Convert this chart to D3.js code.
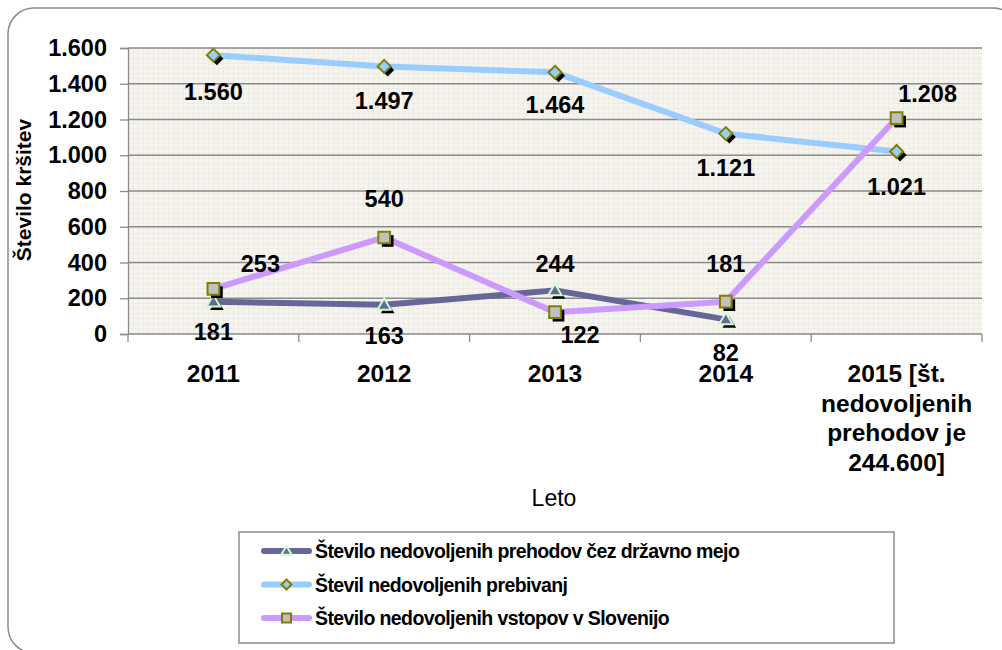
<!DOCTYPE html>
<html>
<head>
<meta charset="utf-8">
<script src="https://cdn.jsdelivr.net/npm/d3@7"></script>
<style>
  html, body { margin: 0; padding: 0; background: #fff; }
  svg { display: block; font-family: "Liberation Sans", Arial, sans-serif; }
</style>
</head>
<body>
<svg id="chart" width="1002" height="650"></svg>
<script>
// ---- Data ----
const categories = ["2011", "2012", "2013", "2014", "2015"];
const categoryLabels = [
  ["2011"], ["2012"], ["2013"], ["2014"],
  ["2015 [št.", "nedovoljenih", "prehodov je", "244.600]"]
];
const seriesNames = [
  "Število nedovoljenih prehodov čez državno mejo",
  "Števil nedovoljenih prebivanj",
  "Število nedovoljenih vstopov v Slovenijo"
];
const prehodi = [181, 163, 244, 82, null];
const prebivanja = [1560, 1497, 1464, 1121, 1021];
const vstopi = [253, 540, 122, 181, 1208];
const yTicks = [0, 200, 400, 600, 800, 1000, 1200, 1400, 1600];
const yTitle = "Število kršitev";
const xTitle = "Leto";

// ---- Layout / style ----
const plot = { left: 128, right: 982, top: 48, bottom: 334 };
const styles = [
  { line: "#666699", marker: "triangle", fill: "#666699", stroke: "#ccffcc" },
  { line: "#99ccff", marker: "diamond", fill: "#99ccff", stroke: "#808000" },
  { line: "#cc99ff", marker: "square", fill: "#c0c0c0", stroke: "#808000" }
];
// label offsets (dx, dy) relative to each point
const labelOffsets = [
  [[0, 30], [0, 31], [0, -27], [0, 33], [0, 0]],
  [[0, 36], [0, 34], [0, 32], [0, 34], [0, 35]],
  [[47, -25], [0, -39], [25, 22], [0, -38], [31, -25]]
];

const fmt = d3.formatLocale({ decimal: ",", thousands: ".", grouping: [3], currency: ["", "€"] }).format(",d");

const svg = d3.select("#chart");

// outer rounded frame (cut by the picture edges)
svg.append("rect")
  .attr("x", 8).attr("y", 8).attr("width", 1011).attr("height", 645)
  .attr("rx", 26).attr("ry", 26)
  .attr("fill", "#fff").attr("stroke", "#8c8c8c").attr("stroke-width", 1.5);

// plot background with fine grid pattern
const defs = svg.append("defs");
const pat = defs.append("pattern").attr("id", "grid").attr("patternUnits", "userSpaceOnUse")
  .attr("x", plot.left).attr("y", plot.top).attr("width", 5).attr("height", 5);
pat.append("rect").attr("width", 5).attr("height", 5).attr("fill", "#f6f4ee");
pat.append("path").attr("d", "M5 0 L0 0 L0 5").attr("fill", "none").attr("stroke", "#e7e4da").attr("stroke-width", 1);

svg.append("rect")
  .attr("x", plot.left).attr("y", plot.top)
  .attr("width", plot.right - plot.left).attr("height", plot.bottom - plot.top)
  .attr("fill", "url(#grid)");

const x = d3.scaleBand().domain(categories).range([plot.left, plot.right]).padding(0);
const y = d3.scaleLinear().domain([0, 1600]).range([plot.bottom, plot.top]);
const cx = c => x(c) + x.bandwidth() / 2;

// gridlines
svg.append("g").selectAll("line").data(yTicks.filter(t => t > 0)).join("line")
  .attr("x1", plot.left).attr("x2", plot.right)
  .attr("y1", d => y(d)).attr("y2", d => y(d))
  .attr("stroke", "#8a8a8a").attr("stroke-width", 1.3);

// y axis
const yAxis = svg.append("g").attr("transform", `translate(${plot.left},0)`)
  .call(d3.axisLeft(y).tickValues(yTicks).tickFormat(fmt).tickSize(8).tickPadding(13));
yAxis.select(".domain").attr("stroke", "#8a8a8a").attr("stroke-width", 1.3);
yAxis.selectAll(".tick line").attr("stroke", "#8a8a8a").attr("stroke-width", 1.3);
yAxis.selectAll(".tick text")
  .attr("font-family", "Liberation Sans, Arial, sans-serif")
  .attr("font-size", 23.5).attr("font-weight", "bold").attr("fill", "#000");

// x axis
const xAxis = svg.append("g").attr("transform", `translate(0,${plot.bottom})`);
xAxis.append("line").attr("x1", plot.left).attr("x2", plot.right).attr("y1", 0).attr("y2", 0)
  .attr("stroke", "#8a8a8a").attr("stroke-width", 1.3);
const bounds = categories.map(c => x(c)).concat([x(categories[categories.length - 1]) + x.bandwidth()]);
xAxis.selectAll(".tk").data(bounds).join("line").attr("class", "tk")
  .attr("x1", d => d).attr("x2", d => d).attr("y1", 0).attr("y2", 8)
  .attr("stroke", "#8a8a8a").attr("stroke-width", 1.3);
const xl = xAxis.selectAll(".xl").data(categories).join("text").attr("class", "xl")
  .attr("text-anchor", "middle").attr("font-size", 24.5).attr("font-weight", "bold").attr("fill", "#000");
xl.each(function (c, i) {
  const t = d3.select(this);
  categoryLabels[i].forEach((s, j) => {
    t.append("tspan").attr("x", cx(c)).attr("y", 48 + j * 29.5).text(s);
  });
});

// axis titles
svg.append("text").attr("x", 554).attr("y", 506).attr("text-anchor", "middle")
  .attr("font-size", 23).attr("fill", "#000").text(xTitle);
svg.append("text").attr("transform", "translate(31,190) rotate(-90)").attr("text-anchor", "middle")
  .attr("font-size", 21).attr("font-weight", "bold").attr("fill", "#000").text(yTitle);

// marker path generator
function markerPath(type, s) {
  if (type === "triangle") return `M0,${-s} L${s * 1.05},${s * 0.75} L${-s * 1.05},${s * 0.75} Z`;
  if (type === "diamond") return `M0,${-s} L${s},0 L0,${s} L${-s},0 Z`;
  return `M${-s * 0.9},${-s * 0.9} L${s * 0.9},${-s * 0.9} L${s * 0.9},${s * 0.9} L${-s * 0.9},${s * 0.9} Z`;
}

const allSeries = [prehodi, prebivanja, vstopi];
const line = d3.line().defined(d => d.v != null).x(d => cx(d.c)).y(d => y(d.v));

allSeries.forEach((vals, si) => {
  const st = styles[si];
  const pts = categories.map((c, i) => ({ c, v: vals[i] }));
  svg.append("path").datum(pts).attr("d", line)
    .attr("fill", "none").attr("stroke", st.line).attr("stroke-width", 6)
    .attr("stroke-linejoin", "round").attr("stroke-linecap", "round");
});

allSeries.forEach((vals, si) => {
  const st = styles[si];
  const pts = categories.map((c, i) => ({ c, v: vals[i] })).filter(d => d.v != null);
  const g = svg.append("g");
  // shadow
  g.selectAll(".sh").data(pts).join("path").attr("class", "sh")
    .attr("transform", d => `translate(${cx(d.c) + 3.5},${y(d.v) + 3.5})`)
    .attr("d", markerPath(st.marker, 6.5)).attr("fill", "#000");
  g.selectAll(".mk").data(pts).join("path").attr("class", "mk")
    .attr("transform", d => `translate(${cx(d.c)},${y(d.v)})`)
    .attr("d", markerPath(st.marker, 6.5))
    .attr("fill", st.fill).attr("stroke", st.stroke).attr("stroke-width", 2);
});

// data labels
allSeries.forEach((vals, si) => {
  categories.forEach((c, i) => {
    if (vals[i] == null) return;
    const off = labelOffsets[si][i];
    svg.append("text").attr("x", cx(c) + off[0]).attr("y", y(vals[i]) + off[1])
      .attr("dy", "0.36em").attr("text-anchor", "middle")
      .attr("font-size", 23.5).attr("font-weight", "bold").attr("fill", "#000")
      .text(fmt(vals[i]));
  });
});

// legend
const lg = svg.append("g");
lg.append("rect").attr("x", 239).attr("y", 532).attr("width", 655).attr("height", 111)
  .attr("fill", "#fff").attr("stroke", "#8a8a8a").attr("stroke-width", 1.5);
seriesNames.forEach((name, i) => {
  const st = styles[i];
  const ly = 551 + i * 33.5;
  lg.append("line").attr("x1", 264).attr("x2", 309).attr("y1", ly).attr("y2", ly)
    .attr("stroke", st.line).attr("stroke-width", 6).attr("stroke-linecap", "round");
  lg.append("path").attr("transform", `translate(286.5,${ly})`).attr("d", markerPath(st.marker, 5))
    .attr("fill", st.fill).attr("stroke", st.stroke).attr("stroke-width", 2);
  lg.append("text").attr("x", 315).attr("y", ly).attr("dy", "0.36em")
    .attr("font-size", 19.5).attr("font-weight", "bold").attr("fill", "#000")
    .attr("letter-spacing", -0.6)
    .text(name);
});
</script>
</body>
</html>
